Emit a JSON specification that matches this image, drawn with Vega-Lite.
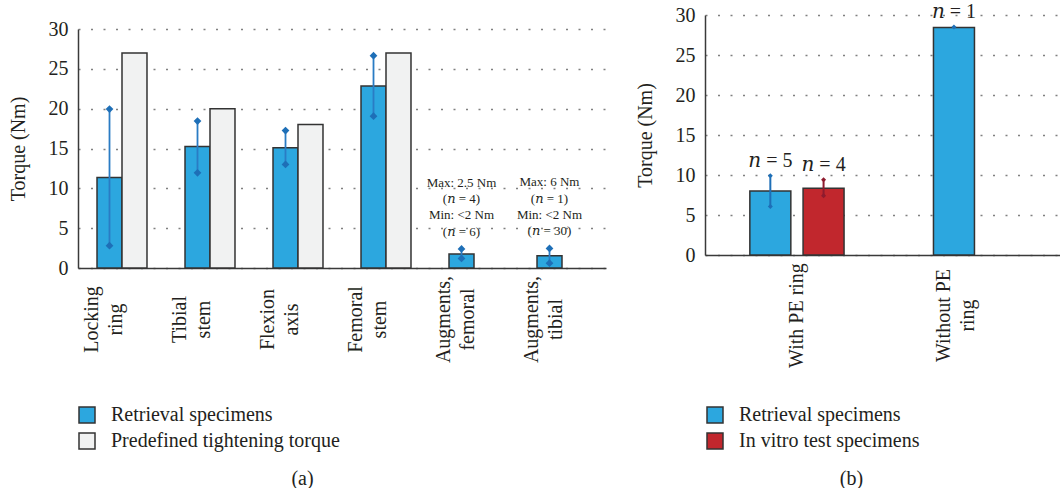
{
  "$schema": "https://vega.github.io/schema/vega-lite/v6.json",
  "padding": {"left": 8, "top": 2, "right": 0, "bottom": 0},
  "background": "white",
  "spacing": 29,
  "datasets": {
    "a": [
      {"part": "Locking ring", "series": "Retrieval specimens", "value": 11.35, "lo": 2.8, "hi": 19.95},
      {"part": "Locking ring", "series": "Predefined tightening torque", "value": 27},
      {"part": "Tibial stem", "series": "Retrieval specimens", "value": 15.25, "lo": 11.95, "hi": 18.45},
      {"part": "Tibial stem", "series": "Predefined tightening torque", "value": 20},
      {"part": "Flexion axis", "series": "Retrieval specimens", "value": 15.1, "lo": 13.0, "hi": 17.25},
      {"part": "Flexion axis", "series": "Predefined tightening torque", "value": 18},
      {"part": "Femoral stem", "series": "Retrieval specimens", "value": 22.85, "lo": 19.05, "hi": 26.65},
      {"part": "Femoral stem", "series": "Predefined tightening torque", "value": 27},
      {"part": "Augments, femoral", "series": "Retrieval specimens", "value": 1.75, "lo": 1.2, "hi": 2.4, "note": "Max: 2.5 Nm\n(𝑛 = 4)\nMin: <2 Nm\n(𝑛 = 6)"},
      {"part": "Augments, tibial", "series": "Retrieval specimens", "value": 1.55, "lo": 0.6, "hi": 2.45, "note": "Max: 6 Nm\n(𝑛 = 1)\nMin: <2 Nm\n(𝑛 = 30)"}
    ],
    "b": [
      {"group": "With PE ring", "series": "Retrieval specimens", "value": 8.0, "lo": 6.05, "hi": 9.9, "n": "𝑛 = 5"},
      {"group": "With PE ring", "series": "In vitro test specimens", "value": 8.35, "lo": 7.4, "hi": 9.4, "n": "𝑛 = 4"},
      {"group": "Without PE ring", "series": "Retrieval specimens", "value": 28.45, "lo": 28.5, "hi": 28.5, "n": "𝑛 = 1"}
    ],
    "none": []
  },
  "hconcat": [
    {
      "spacing": 0,
      "resolve": {"scale": {"color": "independent", "x": "independent", "y": "independent"}},
      "vconcat": [
        {
          "width": 528,
          "height": 4,
          "data": {"name": "none"},
          "mark": "point"
        },
        {
          "width": 528,
          "height": 239,
          "data": {"name": "a"},
          "encoding": {
            "x": {
              "field": "part", "type": "nominal", "sort": null,
              "scale": {"paddingInner": 0.432, "paddingOuter": 0.216},
              "axis": {
                "labelExpr": "split(datum.value, ' ')",
                "labelAngle": -90, "labelAlign": "center", "labelBaseline": "middle",
                "labelPadding": 51, "labelLineHeight": 24, "labelOffset": -30,
                "title": "(a)", "titleX": 224, "titleY": 210, "titleBaseline": "middle"
              }
            },
            "xOffset": {
              "field": "series", "type": "nominal", "sort": null,
              "scale": {"domain": ["Retrieval specimens", "Predefined tightening torque"], "paddingInner": 0, "paddingOuter": 0}
            }
          },
          "layer": [
            {
              "mark": {"type": "bar", "stroke": "#333333", "strokeWidth": 1.5},
              "encoding": {
                "y": {"field": "value", "type": "quantitative", "title": "Torque (Nm)", "scale": {"domain": [0, 30], "nice": false}},
                "color": {
                  "field": "series", "type": "nominal",
                  "scale": {"domain": ["Retrieval specimens", "Predefined tightening torque"], "range": ["#2ca7df", "#f1f2f2"]},
                  "legend": {"orient": "none", "legendX": -1, "legendY": 376, "title": null, "direction": "vertical"}
                }
              }
            },
            {
              "transform": [{"filter": "isValid(datum.lo)"}],
              "mark": {"type": "rule", "color": "#2a7cc4", "strokeWidth": 1.8},
              "encoding": {
                "y": {"field": "lo", "type": "quantitative", "title": "Torque (Nm)"},
                "y2": {"field": "hi"}
              }
            },
            {
              "transform": [{"filter": "isValid(datum.lo)"}],
              "mark": {"type": "point", "shape": "diamond", "filled": true, "color": "#1e6fb7", "size": 60, "opacity": 1},
              "encoding": {"y": {"field": "lo", "type": "quantitative", "title": "Torque (Nm)"}}
            },
            {
              "transform": [{"filter": "isValid(datum.hi)"}],
              "mark": {"type": "point", "shape": "diamond", "filled": true, "color": "#1e6fb7", "size": 60, "opacity": 1},
              "encoding": {"y": {"field": "hi", "type": "quantitative", "title": "Torque (Nm)"}}
            },
            {
              "transform": [{"filter": "isValid(datum.note)"}],
              "mark": {"type": "text", "fontSize": 13, "lineBreak": "\n", "lineHeight": 16.3, "baseline": "middle", "dy": -66, "color": "#231f20", "font": "Liberation Serif, DejaVu Serif"},
              "encoding": {
                "y": {"field": "hi", "type": "quantitative", "title": "Torque (Nm)"},
                "text": {"field": "note"}
              }
            }
          ]
        }
      ]
    },
    {
      "width": 358,
      "height": 240,
      "data": {"name": "b"},
      "encoding": {
        "x": {
          "field": "group", "type": "nominal", "sort": null,
          "scale": {"paddingInner": 0.4, "paddingOuter": 0.34, "align": 0.42},
          "axis": {
            "labelExpr": "datum.value == 'Without PE ring' ? ['Without PE', 'ring'] : datum.value",
            "labelAngle": -90, "labelAlign": "center", "labelBaseline": "middle",
            "labelPadding": 60, "labelLineHeight": 24,
            "labelOffset": {"condition": {"test": "datum.value == 'Without PE ring'", "value": -10}, "value": 0},
            "title": "(b)", "titleX": 146, "titleY": 223, "titleBaseline": "middle"
          }
        }
      },
      "layer": [
        {
          "transform": [{"filter": "datum.group == 'With PE ring'"}],
          "mark": {"type": "bar", "stroke": "#333333", "strokeWidth": 1.5},
          "encoding": {
            "xOffset": {
              "field": "series", "type": "nominal", "sort": null,
              "scale": {"domain": ["Retrieval specimens", "In vitro test specimens"], "paddingInner": 0.23, "paddingOuter": 0}
            },
            "y": {"field": "value", "type": "quantitative", "title": "Torque (Nm)", "scale": {"domain": [0, 30], "nice": false}},
            "color": {
              "field": "series", "type": "nominal",
              "scale": {"domain": ["Retrieval specimens", "In vitro test specimens"], "range": ["#2ca7df", "#c1272d"]},
              "legend": {"orient": "none", "legendX": 0, "legendY": 390, "title": null, "direction": "vertical"}
            }
          }
        },
        {
          "transform": [{"filter": "datum.group == 'Without PE ring'"}],
          "mark": {"type": "bar", "stroke": "#333333", "strokeWidth": 1.5, "width": 41},
          "encoding": {
            "y": {"field": "value", "type": "quantitative", "title": "Torque (Nm)"},
            "color": {"field": "series", "type": "nominal"}
          }
        },
        {
          "transform": [{"filter": "datum.group == 'With PE ring'"}],
          "mark": {"type": "rule", "strokeWidth": 2},
          "encoding": {
            "xOffset": {"field": "series", "type": "nominal", "sort": null},
            "y": {"field": "lo", "type": "quantitative", "title": "Torque (Nm)"},
            "y2": {"field": "hi"},
            "color": {"condition": {"test": "datum.series == 'In vitro test specimens'", "value": "#8e1b2e"}, "value": "#1e6fb7"}
          }
        },
        {
          "transform": [{"filter": "datum.group == 'With PE ring'"}],
          "mark": {"type": "point", "shape": "diamond", "filled": true, "size": 25, "opacity": 1},
          "encoding": {
            "xOffset": {"field": "series", "type": "nominal", "sort": null},
            "y": {"field": "lo", "type": "quantitative", "title": "Torque (Nm)"},
            "color": {"condition": {"test": "datum.series == 'In vitro test specimens'", "value": "#8e1b2e"}, "value": "#1e6fb7"}
          }
        },
        {
          "transform": [{"filter": "datum.group == 'With PE ring'"}],
          "mark": {"type": "point", "shape": "diamond", "filled": true, "size": 25, "opacity": 1},
          "encoding": {
            "xOffset": {"field": "series", "type": "nominal", "sort": null},
            "y": {"field": "hi", "type": "quantitative", "title": "Torque (Nm)"},
            "color": {"condition": {"test": "datum.series == 'In vitro test specimens'", "value": "#8e1b2e"}, "value": "#1e6fb7"}
          }
        },
        {
          "transform": [{"filter": "datum.group == 'Without PE ring'"}],
          "mark": {"type": "point", "shape": "diamond", "filled": true, "size": 25, "opacity": 1, "color": "#1e6fb7"},
          "encoding": {
            "y": {"field": "hi", "type": "quantitative", "title": "Torque (Nm)"}
          }
        },
        {
          "transform": [{"filter": "datum.group == 'With PE ring'"}],
          "mark": {"type": "text", "fontSize": 20, "baseline": "middle", "dy": -15, "color": "#231f20", "font": "Liberation Serif, DejaVu Serif"},
          "encoding": {
            "xOffset": {"field": "series", "type": "nominal", "sort": null},
            "y": {"field": "hi", "type": "quantitative", "title": "Torque (Nm)"},
            "text": {"field": "n"}
          }
        },
        {
          "transform": [{"filter": "datum.group == 'Without PE ring'"}],
          "mark": {"type": "text", "fontSize": 20, "baseline": "middle", "dy": -15, "color": "#231f20", "font": "Liberation Serif, DejaVu Serif"},
          "encoding": {
            "y": {"field": "hi", "type": "quantitative", "title": "Torque (Nm)"},
            "text": {"field": "n"}
          }
        }
      ]
    }
  ],
  "resolve": {
    "scale": {"color": "independent", "x": "independent", "y": "independent", "xOffset": "independent"},
    "legend": {"color": "independent"}
  },
  "config": {
    "font": "Liberation Serif",
    "view": {"stroke": null},
    "axis": {
      "labelFont": "Liberation Serif", "titleFont": "Liberation Serif",
      "labelFontSize": 20, "titleFontSize": 20, "titleFontWeight": "normal",
      "labelColor": "#231f20", "titleColor": "#231f20",
      "domainColor": "#3a3a3a", "domainWidth": 1.5, "ticks": false
    },
    "axisX": {"grid": false},
    "axisY": {
      "grid": true, "gridDash": [2, 10.5], "gridColor": "#808080", "gridWidth": 1.5,
      "values": [0, 5, 10, 15, 20, 25, 30], "labelPadding": 10, "titlePadding": 20
    },
    "legend": {
      "labelFont": "Liberation Serif", "labelFontSize": 20, "labelColor": "#231f20",
      "symbolType": "square", "symbolSize": 256, "symbolStrokeColor": "#333333", "symbolStrokeWidth": 1.5,
      "rowPadding": 4, "labelOffset": 14, "padding": 0, "labelLimit": 400
    },
    "title": {"font": "Liberation Serif", "color": "#231f20"}
  }
}
